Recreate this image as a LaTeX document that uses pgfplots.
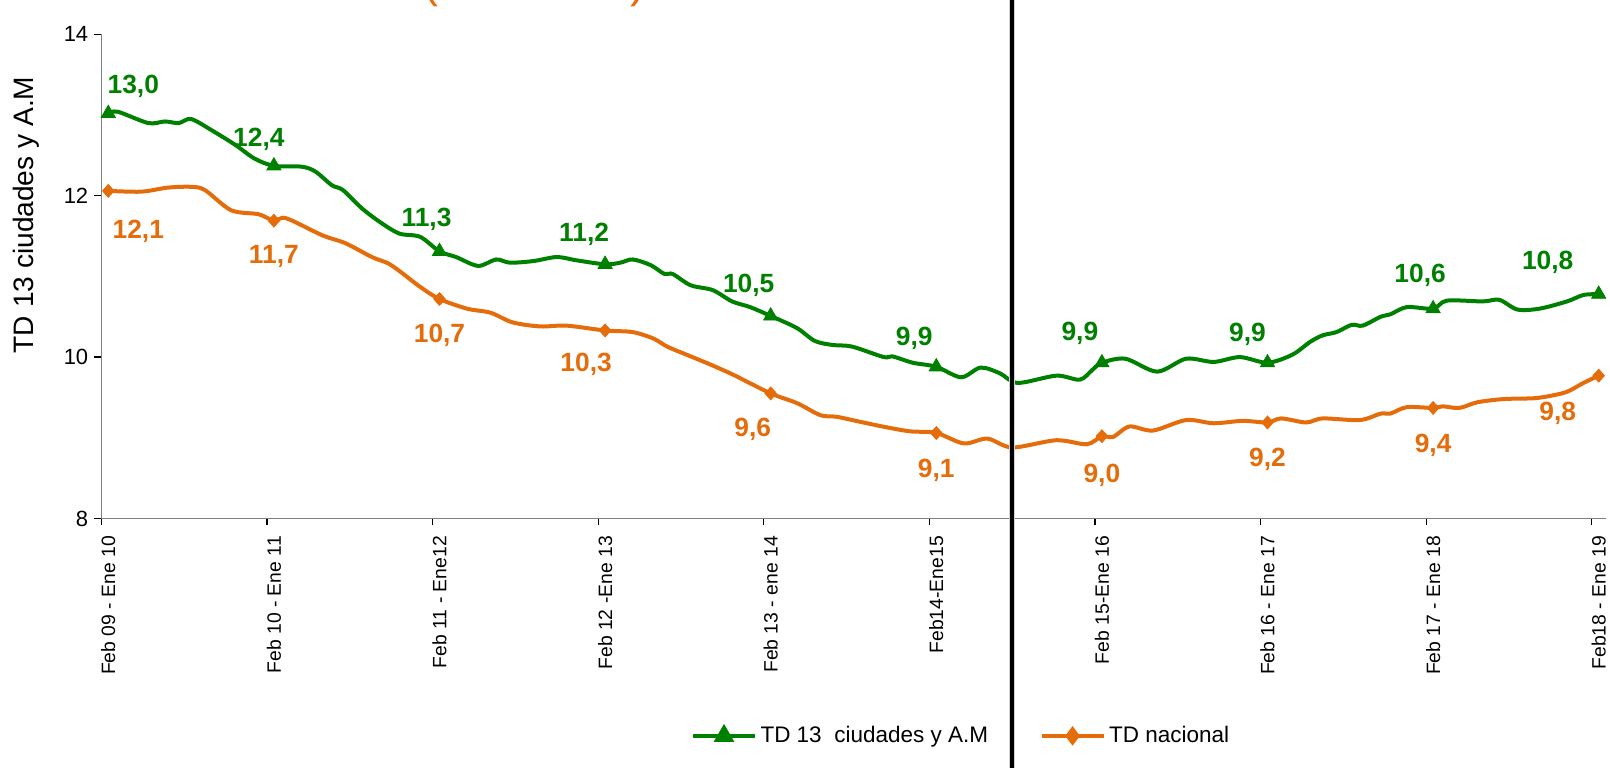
\documentclass[border=0pt]{standalone}
\usepackage{fontspec}
\setmainfont{Liberation Sans}
\usepackage{pgfplots}
\usepackage{pgfplotstable}
\pgfplotsset{compat=1.18}
\definecolor{tdgreen}{RGB}{0,128,0}
\definecolor{tdorange}{RGB}{228,108,10}

\pgfplotstableread{
m v
0 13.02
0.7 13.04
2.9 12.90
4.1 12.92
5.1 12.90
6.0 12.95
7.5 12.81
9.2 12.63
10.6 12.46
12 12.37
14.0 12.36
15.0 12.30
16.2 12.13
17.0 12.07
18.4 11.84
19.8 11.66
21.1 11.53
22.6 11.49
24 11.31
25.2 11.24
26.8 11.13
28.1 11.21
29.1 11.17
30.8 11.19
32.5 11.24
33.9 11.20
36 11.15
37.1 11.17
38.0 11.21
39.3 11.14
40.3 11.03
40.9 11.03
42.2 10.89
43.8 10.83
45.2 10.69
46.5 10.62
48 10.51
49.9 10.36
51.2 10.20
52.5 10.15
53.9 10.13
56.2 10.00
56.8 10.01
58.3 9.93
60 9.88
61.8 9.75
63.2 9.87
64.6 9.80
65.9 9.68
68.7 9.77
70.4 9.72
71.3 9.84
72 9.93
73.7 9.98
76.0 9.82
78.1 9.98
80.1 9.94
82.0 10.00
84 9.93
85.8 10.03
87.1 10.19
88.0 10.27
89.0 10.31
90.1 10.40
90.9 10.39
92.2 10.50
92.9 10.53
94.1 10.62
96 10.60
97.0 10.70
99.6 10.69
100.8 10.71
102.1 10.59
103.7 10.60
105.7 10.69
106.9 10.77
108 10.78
}\greenline

\pgfplotstableread{
m v
0 12.06
2.4 12.05
4.3 12.10
6.0 12.11
7.0 12.07
8.9 11.82
10.9 11.77
12 11.69
12.9 11.72
15.5 11.51
17.2 11.41
19.1 11.24
20.3 11.16
21.3 11.04
22.6 10.87
24 10.72
26.0 10.60
27.7 10.55
29.3 10.43
31.3 10.38
33.2 10.39
36 10.33
38.0 10.31
39.5 10.23
40.5 10.13
41.9 10.03
43.6 9.91
45.3 9.78
48 9.55
49.9 9.43
51.6 9.28
52.8 9.26
54.7 9.19
56.4 9.13
58.1 9.08
60 9.06
62.0 8.93
63.7 8.99
65.5 8.88
68.7 8.97
70.9 8.92
72 9.02
72.8 9.01
74.0 9.14
75.7 9.09
78.1 9.22
80.1 9.18
82.2 9.21
84 9.19
85.0 9.24
86.8 9.19
88.0 9.24
90.7 9.22
92.2 9.30
92.9 9.30
94.1 9.38
96 9.37
96.7 9.39
97.9 9.37
99.2 9.44
101.1 9.48
103.3 9.49
104.5 9.52
105.7 9.57
106.9 9.68
108 9.77
}\orangeline

\pgfplotstableread{
m v label dx dy
0 13.02 13,0 5.0 5.4
12 12.37 12,4 -3.0 5.4
24 11.31 11,3 -2.6 6.4
36 11.15 11,2 -4.2 6.0
48 10.51 10,5 -4.4 6.1
60 9.88 9,9 -4.4 5.6
72 9.93 9,9 -4.4 5.8
84 9.93 9,9 -4.0 5.6
96 10.60 10,6 -2.6 6.6
108 10.78 10,8 -10.2 6.4
}\greenmarks

\pgfplotstableread{
m v label dx dy
0 12.06 12,1 6.0 -8.0
12 11.69 11,7 0.0 -7.2
24 10.72 10,7 0.0 -7.2
36 10.33 10,3 -3.8 -6.8
48 9.55 9,6 -3.6 -7.2
60 9.06 9,1 0.0 -7.4
72 9.02 9,0 0.0 -7.8
84 9.19 9,2 0.0 -7.3
96 9.37 9,4 0.0 -7.4
108 9.77 9,8 -8.2 -7.5
}\orangemarks

\begin{document}
\begin{tikzpicture}
\begin{axis}[name=ax, at={(0,0)}, anchor=south west,
  scale only axis, width=300.84mm, height=96.84mm,
  xmin=-0.5, xmax=108.5, ymin=8, ymax=14,
  axis x line*=bottom, axis y line*=left,
  axis line style={draw=gray, line width=0.3mm},
  tick align=outside,
  major tick length=1.4mm,
  ytick={8,10,12,14},
  yticklabel style={font=\fontsize{12.5}{14}\selectfont, /pgf/number format/assume math mode=true},
  y tick style={black, line width=0.25mm},
  xtick={-0.5,11.5,...,107.5}, xticklabels={},
  x tick style={black, line width=0.25mm},
  extra x ticks={0,12,...,108},
  extra x tick labels={Feb 09 - Ene 10, Feb 10 - Ene 11, Feb 11 - Ene12, Feb 12 -Ene 13, Feb 13 - ene 14, Feb14-Ene15, Feb 15-Ene 16, Feb 16 - Ene 17, Feb 17 - Ene 18, Feb18 - Ene 19},
  extra x tick style={major tick length=0pt, tick label style={yshift=-2.3mm, rotate=90, anchor=east, font=\fontsize{11}{13}\selectfont}},
  ylabel={TD 13 ciudades y A.M},
  ylabel style={at={(axis description cs:-0.0497,0.627)}, anchor=center, font=\fontsize{16}{19}\selectfont},
  clip=false,
  legend columns=2,
  legend cell align=left,
  legend style={at={(0.572,-0.449)}, anchor=center, draw=none, fill=none,
    font=\fontsize{12.8}{15}\selectfont,
    /tikz/every even column/.append style={column sep=9.6mm}},
  legend image code/.code={\draw[mark repeat=2,mark phase=2] plot coordinates {(0cm,0cm) (0.62cm,0cm) (1.24cm,0cm)};},
]
\addlegendimage{tdgreen, line width=0.8mm, mark=triangle*, mark size=1.6mm, mark options={solid}}
\addlegendentry{TD 13\ \ ciudades y A.M}
\addlegendimage{tdorange, line width=0.8mm, mark=diamond*, mark size=1.3mm, mark options={solid}}
\addlegendentry{TD nacional}

\addplot[forget plot, tdgreen, line width=0.8mm, smooth, no marks] table[x=m, y=v] {\greenline};
\addplot[forget plot, tdorange, line width=0.8mm, smooth, no marks] table[x=m, y=v] {\orangeline};

\addplot[forget plot, only marks, mark=triangle*, mark size=1.65mm, tdgreen,
  nodes near coords, point meta=explicit symbolic,
  visualization depends on={\thisrow{dx}\as\dx},
  visualization depends on={\thisrow{dy}\as\dy},
  every node near coord/.append style={anchor=center, xshift=\dx mm, yshift=\dy mm, font=\fontsize{15}{17}\selectfont\bfseries, text=tdgreen}]
  table[x=m, y=v, meta=label] {\greenmarks};
\addplot[forget plot, only marks, mark=diamond*, mark size=1.3mm, mark options={xscale=1.2}, tdorange,
  nodes near coords, point meta=explicit symbolic,
  visualization depends on={\thisrow{dx}\as\dx},
  visualization depends on={\thisrow{dy}\as\dy},
  every node near coord/.append style={anchor=center, xshift=\dx mm, yshift=\dy mm, font=\fontsize{15}{17}\selectfont\bfseries, text=tdorange}]
  table[x=m, y=v, meta=label] {\orangemarks};

\draw[gray!35, line width=1.3mm] (axis cs:65.5,4.8) -- (axis cs:65.5,14.5);
\draw[black, line width=0.75mm] (axis cs:65.5,4.8) -- (axis cs:65.5,14.5);
\node[anchor=base, text=tdorange, font=\fontsize{25.6}{30}\selectfont] at (axis cs:30.9,14.46) {(año móvil)};
\end{axis}
\pgfresetboundingbox
\path[use as bounding box] (-20.28mm,-49.9mm) rectangle (301.72mm,103.7mm);
\end{tikzpicture}
\end{document}
